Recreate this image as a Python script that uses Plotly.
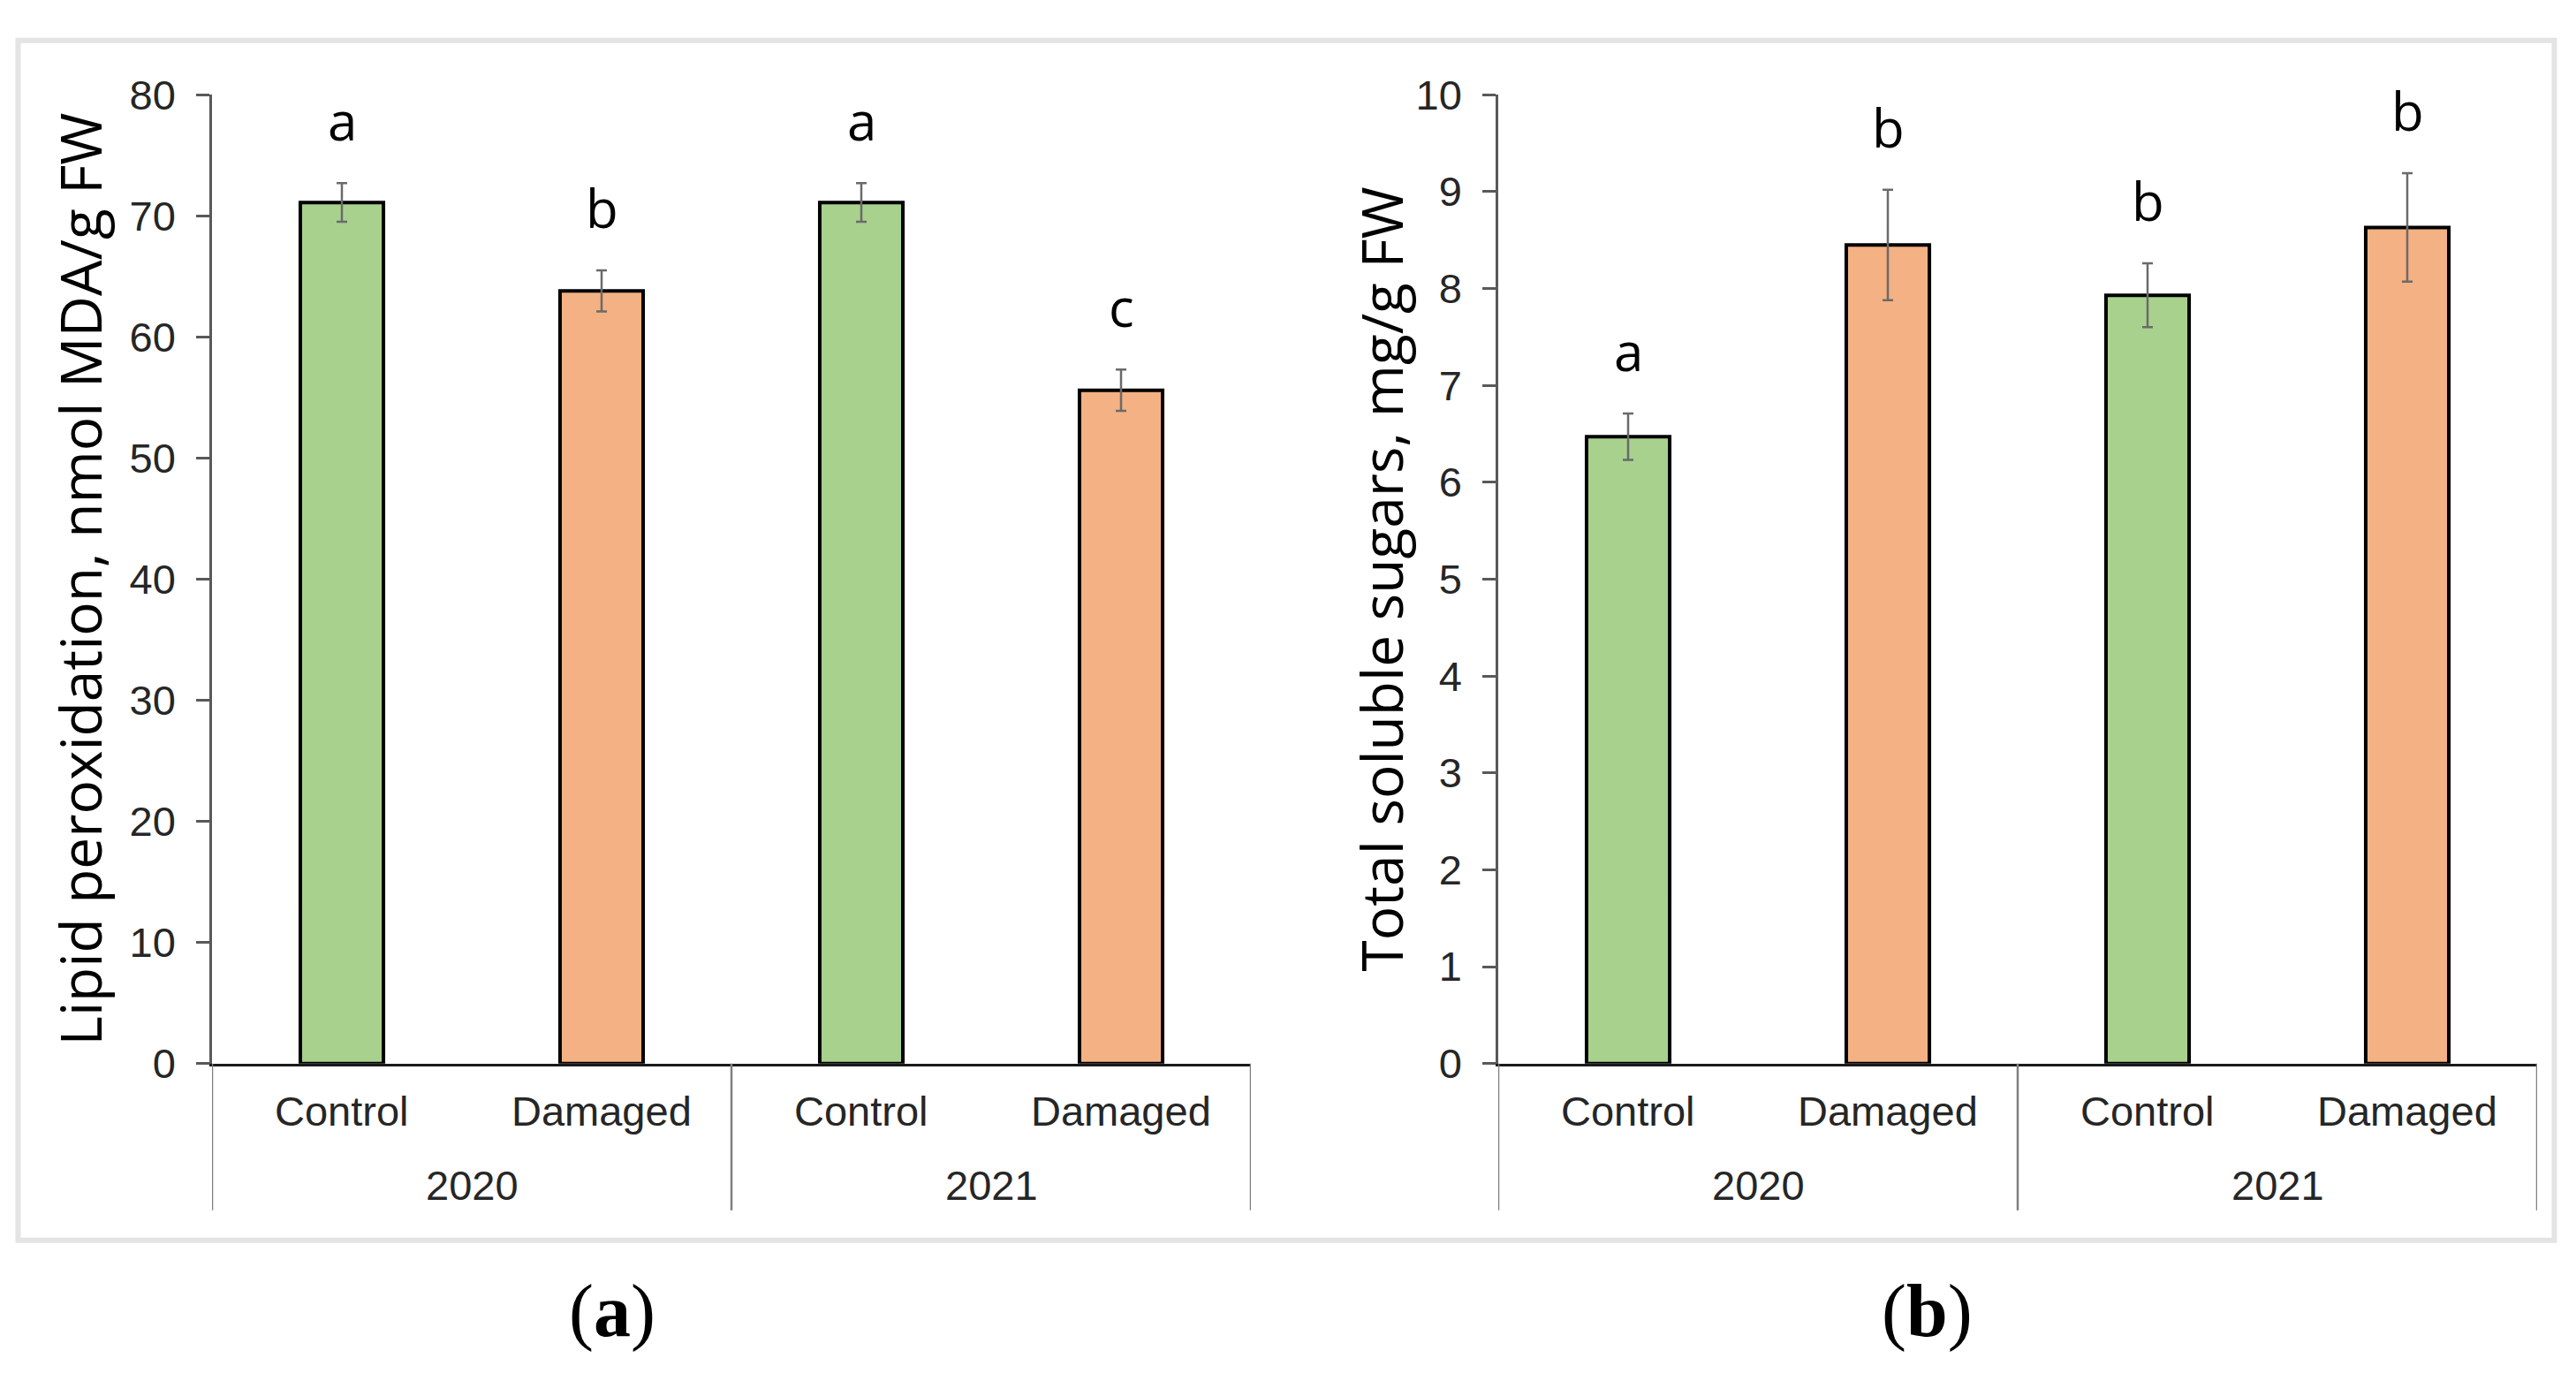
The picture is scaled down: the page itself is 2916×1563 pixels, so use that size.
import plotly.graph_objects as go

# ---------------- data ----------------
years = ["2020", "2020", "2021", "2021"]
treatments = ["Control", "Damaged", "Control", "Damaged"]
categories = [f"{y} {t}" for y, t in zip(years, treatments)]
year_labels = ["2020", "2021"]

lipid_values = [71.1, 63.8, 71.1, 55.6]
lipid_errors = [1.6, 1.7, 1.6, 1.7]
lipid_letters = ["a", "b", "a", "c"]

sugar_values = [6.47, 8.45, 7.93, 8.63]
sugar_errors = [0.24, 0.57, 0.33, 0.56]
sugar_letters = ["a", "b", "b", "b"]

bar_colors = ["#A9D18E", "#F4B183", "#A9D18E", "#F4B183"]

# ---------------- geometry helpers ----------------
W, H = 2916, 1563


def fx(p):
    return p / W


def fy(p):
    return 1 - p / H


PLOT_TOP, PLOT_BOT = 83, 1218
XA = (240, 1416)
XB = (1696, 2872)

TICK_FONT = dict(family="Liberation Sans, Arial", size=47, color="#262626")
TITLE_FONT = dict(family="Open Sans", size=64, color="#000000")
LETTER_FONT = dict(family="Open Sans", size=60, color="#000000")

fig = go.Figure()

panels = [
    ("x", "y", lipid_values, lipid_errors, lipid_letters,
     "Lipid peroxidation, nmol MDA/g FW", 90),
    ("x2", "y2", sugar_values, sugar_errors, sugar_letters,
     "Total soluble sugars, mg/g FW", 1563),
]

annotations = []
shapes = []

for xr, yr, vals, errs, letters, title, title_x in panels:
    fig.add_trace(go.Bar(
        x=categories, y=vals, xaxis=xr, yaxis=yr,
        marker=dict(color=bar_colors, line=dict(color="#000000", width=4)),
        error_y=dict(type="data", array=errs, visible=True,
                     color="#6a6a6a", thickness=2.5, width=6),
        showlegend=False,
    ))
    # significance letters
    for c, v, e, l in zip(categories, vals, errs, letters):
        annotations.append(dict(
            x=c, y=v + e, xref=xr, yref=yr, text=l, showarrow=False,
            yanchor="bottom", yshift=28, font=LETTER_FONT))
    # treatment labels
    for c, t in zip(categories, treatments):
        annotations.append(dict(
            x=c, y=fy(1274), xref=xr, yref="paper", text=t, showarrow=False,
            yanchor="middle", font=TICK_FONT))
    # year labels
    for i, yl in enumerate(year_labels):
        annotations.append(dict(
            x=2 * i + 0.5, y=fy(1361), xref=xr, yref="paper", text=yl,
            showarrow=False, yanchor="middle", font=TICK_FONT))
    # separators below the axis
    for sx in [-0.5, 1.5, 3.5]:
        shapes.append(dict(type="line", xref=xr, yref="paper",
                           x0=sx, x1=sx, y0=fy(PLOT_BOT), y1=fy(1390),
                           line=dict(color="#7f7f7f", width=2.5)))
    # axis title
    annotations.append(dict(
        x=fx(title_x), y=fy((PLOT_TOP + PLOT_BOT) / 2), xref="paper",
        yref="paper", text=title, textangle=-90, showarrow=False,
        xanchor="center", yanchor="middle", font=TITLE_FONT))

# panel labels
for lbl, px in [("a", 693), ("b", 2181)]:
    annotations.append(dict(x=fx(px), y=fy(1508), xref="paper", yref="paper",
                            text=f"(<b>{lbl}</b>)", showarrow=False,
                            xanchor="center", yanchor="middle",
                            font=dict(family="Liberation Serif", size=84,
                                      color="#000000")))

# outer light-gray frame
shapes.append(dict(type="rect", xref="paper", yref="paper",
                   x0=fx(20.5), x1=fx(2891.5), y0=fy(19.5), y1=fy(1425),
                   line=dict(color="#e4e4e4", width=6), layer="below"))

xaxis_common = dict(type="category", showticklabels=False, ticks="",
                    showline=True, linecolor="#1a1a1a", linewidth=3,
                    showgrid=False, zeroline=False, fixedrange=True,
                    range=[-0.5, 3.5])
yaxis_common = dict(showline=True, linecolor="#595959", linewidth=2.5,
                    ticks="outside", ticklen=15, tickwidth=2.5,
                    tickcolor="#595959", showgrid=False, zeroline=False,
                    tickfont=TICK_FONT, ticklabelstandoff=14,
                    domain=[fy(PLOT_BOT), fy(PLOT_TOP)])

fig.update_layout(
    width=W, height=H,
    margin=dict(l=0, r=0, t=0, b=0),
    paper_bgcolor="white", plot_bgcolor="white",
    bargap=0.68,
    xaxis=dict(domain=[fx(XA[0]), fx(XA[1])], anchor="y", **xaxis_common),
    xaxis2=dict(domain=[fx(XB[0]), fx(XB[1])], anchor="y2", **xaxis_common),
    yaxis=dict(anchor="x", range=[0, 80], dtick=10, **yaxis_common),
    yaxis2=dict(anchor="x2", range=[0, 10], dtick=1, **yaxis_common),
    annotations=annotations,
    shapes=shapes,
)

page_fix = (
    "document.documentElement.style.margin='0';"
    "document.documentElement.style.background='#ffffff';"
    "document.body.style.margin='0';"
    "document.body.style.padding='0';"
    "document.body.style.background='#ffffff';"
    "document.body.style.overflow='hidden';"
)

fig.write_html("out.html", post_script=page_fix,
               config={"displayModeBar": False})
